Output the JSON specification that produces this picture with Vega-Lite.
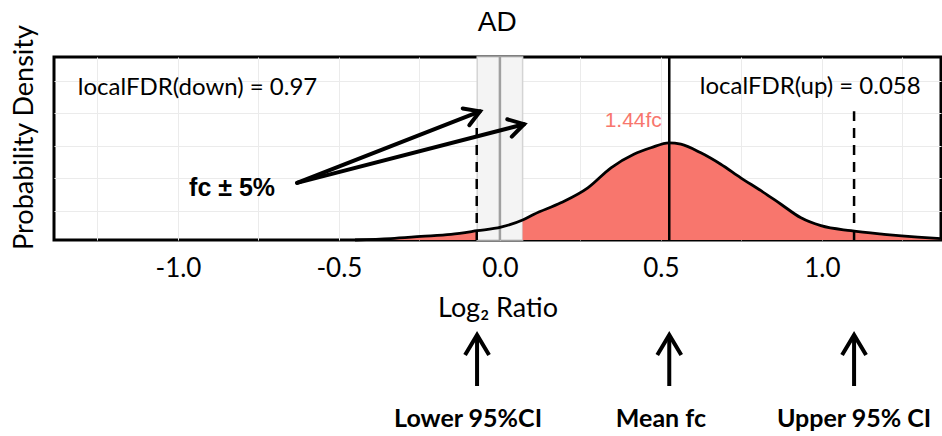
{
  "$schema": "https://vega.github.io/schema/vega-lite/v6.json",
  "padding": {"left": 8, "top": 8, "right": 0, "bottom": 0},
  "spacing": 4,
  "background": "white",
  "title": {"text": "AD", "font": "Liberation Sans", "fontSize": 28, "fontWeight": "normal", "anchor": "middle", "dx": 19, "offset": -14, "color": "black"},
  "config": {
    "font": "Lato",
    "axis": {"labelColor": "black", "titleColor": "black"}
  },
  "vconcat": [
    {
      "width": 887,
      "height": 183,
      "view": {"stroke": "black", "strokeWidth": 3},
      "layer": [
        {
          "data": {"values": [{"lo": -0.0705, "hi": 0.0705}]},
          "mark": {"type": "rect", "fill": "#f4f4f4", "stroke": "#d4d4d4", "strokeWidth": 1.5},
          "encoding": {
            "x": {"field": "lo", "type": "quantitative", "title": "Log₂ Ratio",
              "scale": {"domain": [-1.385, 1.37], "nice": false, "zero": false},
              "axis": {"values": [-1.25, -1, -0.75, -0.5, -0.25, 0, 0.25, 0.5, 0.75, 1, 1.25],
                "labelExpr": "abs(datum.value*2 - round(datum.value*2)) < 0.001 ? replace(format(datum.value, '.1f'), '−', '-') : ''",
                "grid": true, "gridColor": "#ebebeb", "gridWidth": 1, "domain": false, "ticks": false,
                "labelFont": "Lato", "labelFontSize": 26, "labelPadding": 15,
                "titleFont": "Lato", "titleFontSize": 27, "titleFontWeight": "normal", "titlePadding": 14}},
            "x2": {"field": "hi"}
          }
        },
        {
          "data": {"name": "curve"},
          "transform": [{"filter": "datum.x <= -0.07"}],
          "mark": {"type": "area", "color": "#F8766D", "interpolate": "monotone"},
          "encoding": {
            "x": {"field": "x", "type": "quantitative", "title": "Log₂ Ratio"},
            "y": {"field": "y", "type": "quantitative", "title": "Probability Density",
              "scale": {"domain": [0, 2.56], "nice": false, "zero": false},
              "axis": {"values": [0.41, 0.865, 1.32, 1.775, 2.23], "labels": false, "ticks": false, "domain": false,
                "grid": true, "gridColor": "#ebebeb", "gridWidth": 1,
                "titleFont": "Lato", "titleFontSize": 27, "titleFontWeight": "normal", "titlePadding": 16, "titleY": 80}}
          }
        },
        {
          "data": {"name": "curve"},
          "transform": [{"filter": "datum.x >= 0.07"}],
          "mark": {"type": "area", "color": "#F8766D", "interpolate": "monotone"},
          "encoding": {
            "x": {"field": "x", "type": "quantitative", "title": "Log₂ Ratio"},
            "y": {"field": "y", "type": "quantitative", "title": "Probability Density"}
          }
        },
        {
          "data": {"values": [{"x": 0}]},
          "mark": {"type": "rule", "color": "#a0a0a0", "strokeWidth": 2.5},
          "encoding": {"x": {"field": "x", "type": "quantitative", "title": "Log₂ Ratio"}}
        },
        {
          "data": {"name": "curve"},
          "mark": {"type": "line", "color": "black", "strokeWidth": 2.8, "interpolate": "monotone"},
          "encoding": {
            "x": {"field": "x", "type": "quantitative", "title": "Log₂ Ratio"},
            "y": {"field": "y", "type": "quantitative", "title": "Probability Density"}
          }
        },
        {
          "data": {"values": [{"x": 0.526}]},
          "mark": {"type": "rule", "color": "black", "strokeWidth": 2.5},
          "encoding": {"x": {"field": "x", "type": "quantitative", "title": "Log₂ Ratio"}}
        },
        {
          "data": {"values": [{"x": -0.072, "y": 0, "y2": 1.59}, {"x": 1.10, "y": 0, "y2": 1.80}]},
          "mark": {"type": "rule", "color": "black", "strokeWidth": 2.5, "strokeDash": [10, 7]},
          "encoding": {
            "x": {"field": "x", "type": "quantitative", "title": "Log₂ Ratio"},
            "y": {"field": "y", "type": "quantitative", "title": "Probability Density"},
            "y2": {"field": "y2"}
          }
        },
        {
          "data": {"values": [{"x": -0.630, "y": 0.80, "x2": -0.062, "y2": 1.80}, {"x": -0.630, "y": 0.80, "x2": 0.075, "y2": 1.62}]},
          "mark": {"type": "rule", "color": "black", "strokeWidth": 4, "strokeCap": "round"},
          "encoding": {
            "x": {"field": "x", "type": "quantitative", "title": "Log₂ Ratio"},
            "y": {"field": "y", "type": "quantitative", "title": "Probability Density"},
            "x2": {"field": "x2"},
            "y2": {"field": "y2"}
          }
        },
        {
          "data": {"values": [{"x": -0.062, "y": 1.80}]},
          "mark": {"type": "point", "shape": "M-1,-0.6L0,0L-1,0.6", "filled": false, "stroke": "black", "strokeWidth": 4, "size": 900, "angle": -21.5, "opacity": 1, "strokeCap": "round"},
          "encoding": {
            "x": {"field": "x", "type": "quantitative", "title": "Log₂ Ratio"},
            "y": {"field": "y", "type": "quantitative", "title": "Probability Density"}
          }
        },
        {
          "data": {"values": [{"x": 0.075, "y": 1.62}]},
          "mark": {"type": "point", "shape": "M-1,-0.6L0,0L-1,0.6", "filled": false, "stroke": "black", "strokeWidth": 4, "size": 900, "angle": -14.6, "opacity": 1, "strokeCap": "round"},
          "encoding": {
            "x": {"field": "x", "type": "quantitative", "title": "Log₂ Ratio"},
            "y": {"field": "y", "type": "quantitative", "title": "Probability Density"}
          }
        },
        {
          "data": {"values": [{"x": -1.311, "y": 2.13, "label": "localFDR(down) = 0.97"}]},
          "mark": {"type": "text", "align": "left", "baseline": "middle", "font": "Lato", "fontSize": 24, "color": "black"},
          "encoding": {
            "x": {"field": "x", "type": "quantitative", "title": "Log₂ Ratio"},
            "y": {"field": "y", "type": "quantitative", "title": "Probability Density"},
            "text": {"field": "label"}
          }
        },
        {
          "data": {"values": [{"x": 1.307, "y": 2.14, "label": "localFDR(up) = 0.058"}]},
          "mark": {"type": "text", "align": "right", "baseline": "middle", "font": "Lato", "fontSize": 24, "color": "black"},
          "encoding": {
            "x": {"field": "x", "type": "quantitative", "title": "Log₂ Ratio"},
            "y": {"field": "y", "type": "quantitative", "title": "Probability Density"},
            "text": {"field": "label"}
          }
        },
        {
          "data": {"values": [{"x": 0.503, "y": 1.66, "label": "1.44fc"}]},
          "mark": {"type": "text", "align": "right", "baseline": "middle", "font": "Liberation Sans", "fontSize": 21, "color": "#F8766D"},
          "encoding": {
            "x": {"field": "x", "type": "quantitative", "title": "Log₂ Ratio"},
            "y": {"field": "y", "type": "quantitative", "title": "Probability Density"},
            "text": {"field": "label"}
          }
        },
        {
          "data": {"values": [{"x": -0.832, "y": 0.727, "label": "fc ± 5%"}]},
          "mark": {"type": "text", "align": "center", "baseline": "middle", "font": "Liberation Sans", "fontWeight": "bold", "fontSize": 25, "color": "black"},
          "encoding": {
            "x": {"field": "x", "type": "quantitative", "title": "Log₂ Ratio"},
            "y": {"field": "y", "type": "quantitative", "title": "Probability Density"},
            "text": {"field": "label"}
          }
        }
      ]
    },
    {
      "width": 887,
      "height": 100,
      "view": {"stroke": null},
      "layer": [
        {
          "data": {"values": [{"x": -0.071, "y": 45, "y2": 93}, {"x": 0.526, "y": 45, "y2": 93}, {"x": 1.10, "y": 45, "y2": 93}]},
          "mark": {"type": "rule", "color": "black", "strokeWidth": 4},
          "encoding": {
            "x": {"field": "x", "type": "quantitative", "axis": null, "scale": {"domain": [-1.385, 1.37], "nice": false, "zero": false}},
            "y": {"field": "y", "type": "quantitative", "axis": null, "scale": {"domain": [0, 100], "nice": false, "zero": false}},
            "y2": {"field": "y2"}
          }
        },
        {
          "data": {"values": [{"x": -0.071, "y": 96}, {"x": 0.526, "y": 96}, {"x": 1.10, "y": 96}]},
          "mark": {"type": "point", "shape": "M-1,-0.6L0,0L-1,0.6", "filled": false, "stroke": "black", "strokeWidth": 4, "size": 1600, "angle": -90, "opacity": 1},
          "encoding": {
            "x": {"field": "x", "type": "quantitative", "axis": null},
            "y": {"field": "y", "type": "quantitative", "axis": null}
          }
        },
        {
          "data": {"values": [{"x": -0.099, "y": 12, "label": "Lower 95%CI"}, {"x": 0.50, "y": 12, "label": "Mean fc"}, {"x": 1.10, "y": 12, "label": "Upper 95% CI"}]},
          "mark": {"type": "text", "align": "center", "baseline": "middle", "font": "Lato", "fontWeight": "bold", "fontSize": 25, "color": "black"},
          "encoding": {
            "x": {"field": "x", "type": "quantitative", "axis": null},
            "y": {"field": "y", "type": "quantitative", "axis": null},
            "text": {"field": "label"}
          }
        }
      ]
    }
  ],
  "datasets": {
    "curve": [
      {"x": -0.45, "y": 0.0},
      {"x": -0.339, "y": 0.02},
      {"x": -0.245, "y": 0.05},
      {"x": -0.152, "y": 0.08},
      {"x": -0.0705, "y": 0.13},
      {"x": 0.003, "y": 0.18},
      {"x": 0.0705, "y": 0.28},
      {"x": 0.106, "y": 0.36},
      {"x": 0.189, "y": 0.52},
      {"x": 0.273, "y": 0.73},
      {"x": 0.345, "y": 1.01},
      {"x": 0.416, "y": 1.20},
      {"x": 0.469, "y": 1.29},
      {"x": 0.525, "y": 1.36},
      {"x": 0.562, "y": 1.34},
      {"x": 0.624, "y": 1.22},
      {"x": 0.686, "y": 1.06},
      {"x": 0.748, "y": 0.87},
      {"x": 0.811, "y": 0.69},
      {"x": 0.873, "y": 0.50},
      {"x": 0.935, "y": 0.31},
      {"x": 0.997, "y": 0.20},
      {"x": 1.090, "y": 0.13},
      {"x": 1.193, "y": 0.08},
      {"x": 1.298, "y": 0.04},
      {"x": 1.37, "y": 0.02}
    ]
  }
}
